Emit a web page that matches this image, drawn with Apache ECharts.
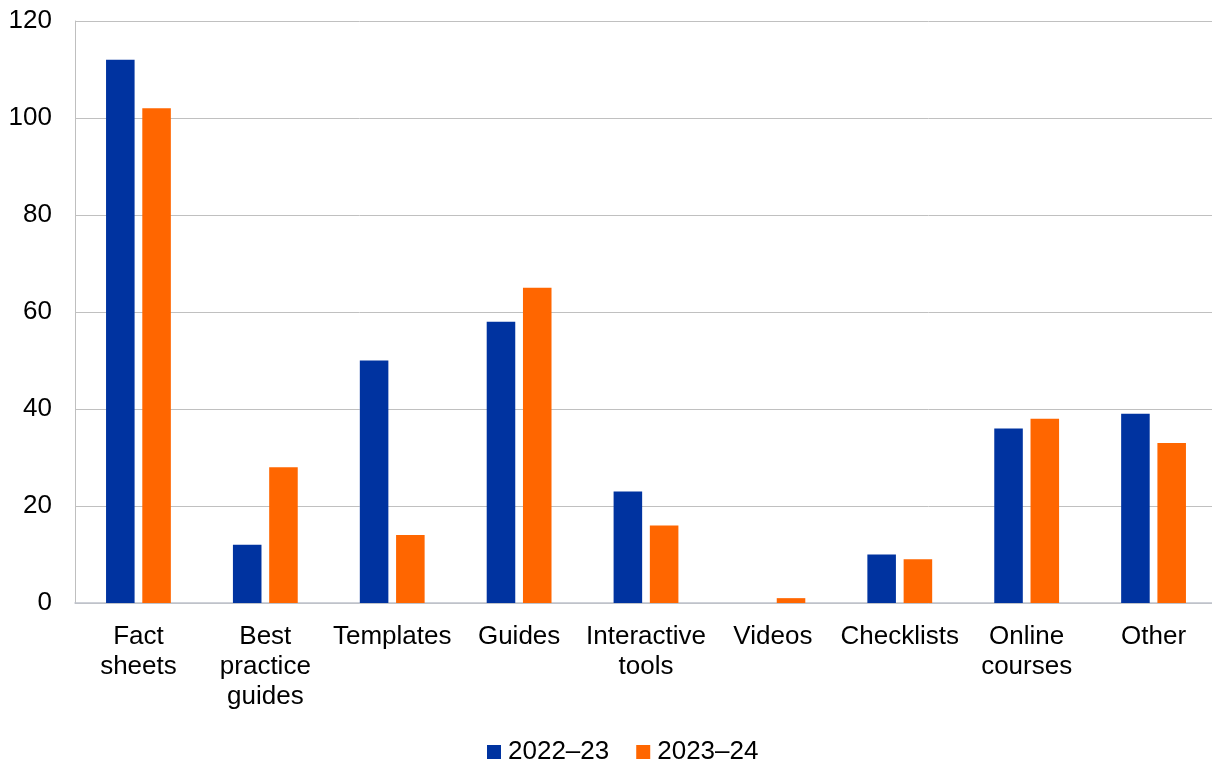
<!DOCTYPE html>
<html>
<head>
<meta charset="utf-8">
<script src="https://cdn.jsdelivr.net/npm/echarts@6/dist/echarts.min.js"></script>
<style>
  html, body { margin: 0; padding: 0; background: #ffffff; }
  #chart { width: 1212px; height: 763px; }
</style>
</head>
<body>
<div id="chart"></div>
<script>
// Resource types published per year
const categories = ['Fact\nsheets', 'Best\npractice\nguides', 'Templates', 'Guides', 'Interactive\ntools', 'Videos', 'Checklists', 'Online\ncourses', 'Other'];
const values2022 = [112, 12, 50, 58, 23, 0, 10, 36, 39];
const values2023 = [102, 28, 14, 65, 16, 1, 9, 38, 33];
const seriesNames = ['2022–23', '2023–24'];
const yTicks = { min: 0, max: 120, interval: 20 };

const font = 'Liberation Sans, Arial, sans-serif';
const chart = echarts.init(document.getElementById('chart'), null, { renderer: 'canvas' });

chart.setOption({
  animation: false,
  textStyle: { fontFamily: font },
  grid: { left: 75, top: 21, width: 1142, bottom: 160, containLabel: false, outerBoundsMode: 'none' },
  legend: {
    data: seriesNames,
    left: 482,
    top: 734,
    icon: 'rect',
    itemWidth: 14,
    itemHeight: 14,
    itemGap: 27,
    textStyle: { fontFamily: font, fontSize: 26, color: '#000', padding: [0, 0, 0, 2] }
  },
  xAxis: {
    type: 'category',
    data: categories,
    axisLine: { lineStyle: { color: '#BFC2CC', width: 1.5 } },
    axisTick: { show: false },
    axisLabel: {
      interval: 0,
      margin: 19,
      fontFamily: font,
      fontSize: 26,
      lineHeight: 30,
      color: '#000'
    }
  },
  yAxis: {
    type: 'value',
    min: yTicks.min,
    max: yTicks.max,
    interval: yTicks.interval,
    axisLine: { show: true, lineStyle: { color: '#BFBFBF', width: 1 } },
    axisTick: { show: false },
    splitLine: { lineStyle: { color: '#C0C0C0', width: 1 } },
    axisLabel: { margin: 23, fontFamily: font, fontSize: 26, color: '#000' }
  },
  series: [
    {
      name: seriesNames[0],
      type: 'bar',
      data: values2022,
      barWidth: '22.5%',
      barGap: '27%',
      itemStyle: { color: '#0033A0' }
    },
    {
      name: seriesNames[1],
      type: 'bar',
      data: values2023,
      barWidth: '22.5%',
      barGap: '27%',
      itemStyle: { color: '#FF6600' }
    }
  ]
});
</script>
</body>
</html>
